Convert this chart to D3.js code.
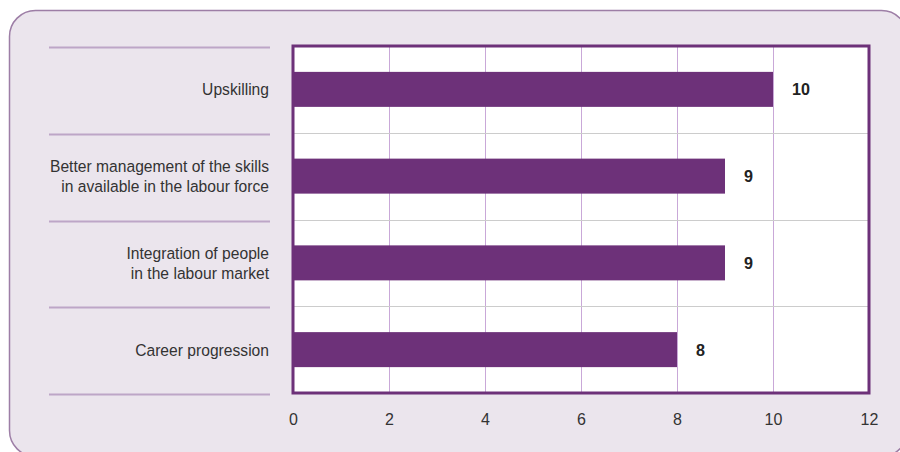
<!DOCTYPE html>
<html lang="en">
  <head>
    <meta charset="utf-8">
    <title></title>
    <style media="screen">
      body { margin: 0; background: #ffffff; }
      svg { display: block; }
      text { font-family: "Liberation Sans", Arial, sans-serif; }
    </style>
  </head>
  <body>
    <div id="graph-div"></div>

    <script src="https://d3js.org/d3.v7.min.js"></script>
    <script type="text/javascript">

    var categories = [
      ["Upskilling"],
      ["Better management of the skills", "in available in the labour force"],
      ["Integration of people", "in the labour market"],
      ["Career progression"]
    ];
    var values = [10, 9, 9, 8];
    var xTicks = [0, 2, 4, 6, 8, 10, 12];

    var W = 900, H = 452;
    var plot = {left: 293, right: 869, top: 46, bottom: 393};

    var svg = d3.select("#graph-div")
      .append("svg")
        .attr("width", W)
        .attr("height", H);

    // panel behind the chart
    svg.append("rect")
      .attr("x", 9.5).attr("y", 10.5)
      .attr("width", 898).attr("height", 446)
      .attr("rx", 26).attr("ry", 26)
      .style("fill", "#ebe5ed")
      .style("stroke", "#9d7ea6")
      .style("stroke-width", 1.5);

    var x = d3.scaleLinear()
        .domain([0, 12])
        .range([plot.left, plot.right]);

    var y = d3.scaleBand()
        .domain(d3.range(categories.length))
        .range([plot.top, plot.bottom]);

    var step = y.step();
    var barH = 35;

    // plot background
    svg.append("rect")
      .attr("x", plot.left).attr("y", plot.top)
      .attr("width", plot.right - plot.left).attr("height", plot.bottom - plot.top)
      .style("fill", "#ffffff");

    // vertical gridlines
    svg.append("g")
      .selectAll("line")
      .data(xTicks.slice(1, -1))
      .enter()
      .append("line")
        .attr("x1", function(d) { return Math.round(x(d)) + 0.5; })
        .attr("x2", function(d) { return Math.round(x(d)) + 0.5; })
        .attr("y1", plot.top).attr("y2", plot.bottom)
        .style("stroke", "#c9a8d8")
        .style("stroke-width", 1);

    // horizontal separators inside the plot
    svg.append("g")
      .selectAll("line")
      .data(d3.range(1, categories.length))
      .enter()
      .append("line")
        .attr("x1", plot.left).attr("x2", plot.right)
        .attr("y1", function(d) { return Math.round(y(d)) + 0.5; })
        .attr("y2", function(d) { return Math.round(y(d)) + 0.5; })
        .style("stroke", "#cccccc")
        .style("stroke-width", 1.2);

    // separators on the label side
    svg.append("g")
      .selectAll("line")
      .data(d3.range(0, categories.length + 1))
      .enter()
      .append("line")
        .attr("x1", 49).attr("x2", 270)
        .attr("y1", function(d) { return Math.round(plot.top + d * step) + 1.5; })
        .attr("y2", function(d) { return Math.round(plot.top + d * step) + 1.5; })
        .style("stroke", "#bda6c7")
        .style("stroke-width", 2);

    // bars
    svg.append("g")
      .selectAll("rect")
      .data(values)
      .enter()
      .append("rect")
        .attr("x", x(0))
        .attr("y", function(d, i) { return y(i) + (step - barH) / 2; })
        .attr("width", function(d) { return x(d) - x(0); })
        .attr("height", barH)
        .style("fill", "#6d3179");

    // value labels
    svg.append("g")
      .selectAll("text")
      .data(values)
      .enter()
      .append("text")
        .attr("transform", function(d, i) {
          return "translate(" + (x(d) + 19) + "," + (y(i) + step / 2) + ") scale(0.95,1)";
        })
        .attr("dy", "0.35em")
        .style("font-size", "17px")
        .style("font-weight", "bold")
        .style("fill", "#222222")
        .text(function(d) { return d; });

    // plot frame
    svg.append("rect")
      .attr("x", plot.left).attr("y", plot.top)
      .attr("width", plot.right - plot.left).attr("height", plot.bottom - plot.top)
      .style("fill", "none")
      .style("stroke", "#6d3179")
      .style("stroke-width", 3);

    // category labels
    var labels = svg.append("g")
      .selectAll("text")
      .data(categories)
      .enter()
      .append("text")
        .attr("text-anchor", "end")
        .style("font-size", "17px")
        .style("fill", "#333333")
        .attr("transform", function(d, i) {
          var cy = y(i) + step / 2 - (d.length - 1) * 10;
          return "translate(269," + cy + ") scale(0.92,1)";
        });
    labels.selectAll("tspan")
      .data(function(d) { return d; })
      .enter()
      .append("tspan")
        .attr("x", 0)
        .attr("dy", function(d, j) { return j === 0 ? "0.35em" : "20px"; })
        .text(function(d) { return d; });

    // x axis tick labels
    var axis = svg.append("g")
      .attr("transform", "translate(0," + (plot.bottom + 2) + ")")
      .call(d3.axisBottom(x).tickValues(xTicks).tickSize(0).tickPadding(19));
    axis.select(".domain").remove();
    axis.selectAll("text")
      .style("font-size", "16px")
      .style("fill", "#333333")
      .style("font-family", "\"Liberation Sans\", Arial, sans-serif");

    </script>
  </body>
</html>
